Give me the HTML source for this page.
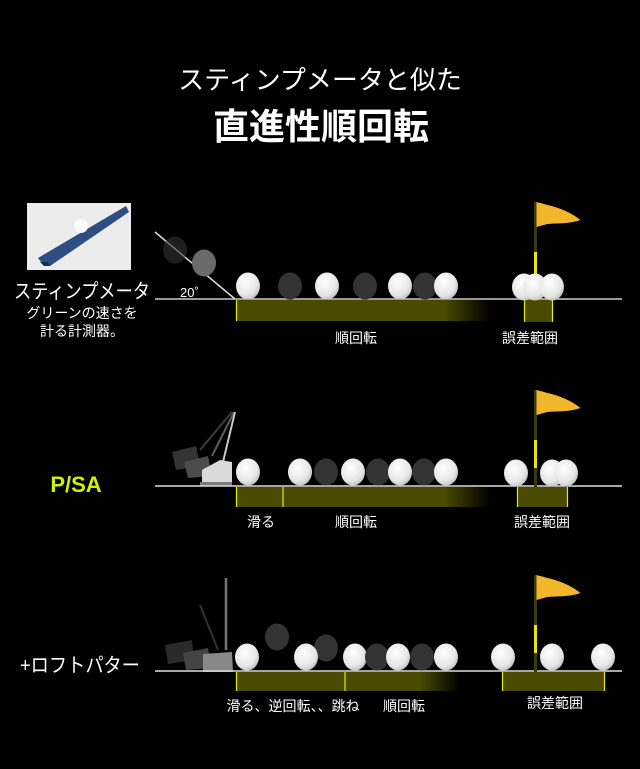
<!DOCTYPE html>
<html><head><meta charset="utf-8"><style>
html,body{margin:0;padding:0;background:#000;width:640px;height:769px;overflow:hidden}
svg{display:block}
text{font-family:"Liberation Sans","Noto Sans CJK JP",sans-serif;fill:#fff}
</style></head><body>
<svg width="640" height="769" viewBox="0 0 640 769" xmlns="http://www.w3.org/2000/svg">
<defs>
<radialGradient id="wb" cx="40%" cy="35%" r="70%"><stop offset="0" stop-color="#fff"/><stop offset="0.7" stop-color="#e6e6e6"/><stop offset="1" stop-color="#bdbdbd"/></radialGradient>
<linearGradient id="fade" x1="0" x2="1"><stop offset="0" stop-color="#4a4a00"/><stop offset="0.82" stop-color="#4a4a00"/><stop offset="1" stop-color="#000"/></linearGradient>
<g id="ball"><ellipse cx="0" cy="0" rx="12" ry="13.5" fill="url(#wb)"/></g>
<g id="dball"><ellipse cx="0" cy="0" rx="12" ry="13.5" fill="#333"/></g>
<g id="flag">
<rect x="-1.5" y="0" width="3" height="97" fill="#3a3a10"/>
<rect x="-1.5" y="50" width="3" height="28" fill="#e6e600"/>
<path d="M1 0 C15 4 30 6 45 18 C35 22 22 21 12 22 L1 25 Z" fill="#f2b62a"/>
</g>
</defs>

<text x="320" y="89" font-size="26" text-anchor="middle">スティンプメータと似た</text>
<text x="321" y="139" font-size="36" font-weight="bold" text-anchor="middle">直進性順回転</text>

<!-- Section 1 -->
<rect x="27" y="203" width="104" height="67" fill="#ececec"/>
<polygon points="38,258 126,206 129,212 50,266 44,266" fill="#2e4d80"/>
<polygon points="40,262 48,262 50,266 44,266" fill="#1b2e50"/>
<circle cx="81" cy="226" r="7" fill="#fafafa"/>
<text x="14" y="298" font-size="20" textLength="136" lengthAdjust="spacingAndGlyphs">スティンプメータ</text>
<text x="82" y="318" font-size="14" text-anchor="middle">グリーンの速さを</text>
<text x="82" y="336" font-size="14" text-anchor="middle">計る計測器。</text>

<line x1="155" y1="232" x2="235" y2="299" stroke="#ddd" stroke-width="1.5"/>
<use href="#dball" x="175" y="250" opacity="0.6"/>
<ellipse cx="204" cy="263" rx="12" ry="13.5" fill="#6a6a6a"/>
<text x="180" y="297" font-size="13">20˚</text>
<line x1="155" y1="299" x2="622" y2="299" stroke="#ccc" stroke-width="1.5"/>
<rect x="236" y="300" width="254" height="21" fill="url(#fade)"/>
<line x1="236.5" y1="300" x2="236.5" y2="321" stroke="#e0f000" stroke-width="1.2"/>
<use href="#ball" x="248" y="286"/>
<use href="#dball" x="290" y="286"/>
<use href="#ball" x="327" y="286"/>
<use href="#dball" x="365" y="286"/>
<use href="#ball" x="400" y="286"/>
<use href="#dball" x="425" y="286"/>
<use href="#ball" x="446" y="286"/>
<use href="#flag" x="535.5" y="202"/>
<rect x="524" y="300" width="29" height="22" fill="#4a4a00"/>
<line x1="524.5" y1="300" x2="524.5" y2="322" stroke="#e0f000" stroke-width="1.2"/>
<line x1="552.5" y1="300" x2="552.5" y2="322" stroke="#e0f000" stroke-width="1.2"/>
<use href="#ball" x="524" y="287"/>
<use href="#ball" x="535" y="287"/>
<use href="#ball" x="552" y="287"/>
<text x="356" y="343" font-size="14" text-anchor="middle">順回転</text>
<text x="530" y="343" font-size="14" text-anchor="middle">誤差範囲</text>

<!-- Section 2 -->
<text x="76" y="492" font-size="22" font-weight="bold" text-anchor="middle" style="fill:#d4f000">P/SA</text>
<g opacity="0.9">
<line x1="200" y1="450" x2="232" y2="412" stroke="#444" stroke-width="2"/>
<line x1="212" y1="456" x2="234" y2="412" stroke="#666" stroke-width="2"/>
<line x1="223" y1="462" x2="235" y2="412" stroke="#ddd" stroke-width="2"/>
<polygon points="172,452 196,446 200,466 176,470" fill="#3a3a3a"/>
<polygon points="184,462 208,456 212,476 188,478" fill="#555"/>
<polygon points="202,470 220,460 232,462 232,482 202,482" fill="#f2f2f2"/>
<rect x="200" y="482" width="32" height="4" fill="#888"/>
</g>
<line x1="155" y1="486" x2="622" y2="486" stroke="#ddd" stroke-width="1.5"/>
<rect x="236" y="487" width="254" height="20" fill="url(#fade)"/>
<line x1="236.5" y1="487" x2="236.5" y2="507" stroke="#e0f000" stroke-width="1.2"/>
<line x1="283" y1="487" x2="283" y2="507" stroke="#e0f000" stroke-width="1.2"/>
<use href="#ball" x="248" y="472"/>
<use href="#ball" x="300" y="472"/>
<use href="#dball" x="326" y="472"/>
<use href="#ball" x="353" y="472"/>
<use href="#dball" x="378" y="472"/>
<use href="#ball" x="400" y="472"/>
<use href="#dball" x="424" y="472"/>
<use href="#ball" x="446" y="472"/>
<use href="#flag" x="535.5" y="390"/>
<rect x="517" y="487" width="51" height="20" fill="#4a4a00"/>
<line x1="517.5" y1="487" x2="517.5" y2="507" stroke="#e0f000" stroke-width="1.2"/>
<line x1="567.5" y1="487" x2="567.5" y2="507" stroke="#e0f000" stroke-width="1.2"/>
<use href="#ball" x="516" y="473"/>
<use href="#ball" x="552" y="473"/>
<use href="#ball" x="566" y="473"/>
<text x="261" y="527" font-size="14" text-anchor="middle">滑る</text>
<text x="356" y="527" font-size="14" text-anchor="middle">順回転</text>
<text x="542" y="527" font-size="14" text-anchor="middle">誤差範囲</text>

<!-- Section 3 -->
<text x="20" y="672" font-size="20" textLength="120" lengthAdjust="spacingAndGlyphs">+ロフトパター</text>
<line x1="226" y1="578" x2="226" y2="650" stroke="#777" stroke-width="2.5"/>
<line x1="200" y1="605" x2="218" y2="650" stroke="#333" stroke-width="2"/>
<polygon points="165,645 192,640 194,660 168,664" fill="#2a2a2a"/>
<polygon points="183,653 208,648 212,668 186,670" fill="#444"/>
<polygon points="203,654 232,652 233,672 203,672" fill="#888"/>
<line x1="155" y1="671" x2="622" y2="671" stroke="#ddd" stroke-width="1.5"/>
<rect x="236" y="672" width="224" height="19" fill="url(#fade)"/>
<line x1="236.5" y1="672" x2="236.5" y2="691" stroke="#e0f000" stroke-width="1.2"/>
<line x1="345" y1="672" x2="345" y2="691" stroke="#e0f000" stroke-width="1.2"/>
<use href="#dball" x="277" y="637"/>
<use href="#dball" x="326" y="648"/>
<use href="#ball" x="247" y="657"/>
<use href="#ball" x="306" y="657"/>
<use href="#ball" x="355" y="657"/>
<use href="#dball" x="377" y="657"/>
<use href="#ball" x="398" y="657"/>
<use href="#dball" x="422" y="657"/>
<use href="#ball" x="446" y="657"/>
<use href="#flag" x="535.5" y="575"/>
<rect x="502" y="672" width="103" height="19" fill="#4a4a00"/>
<line x1="502.5" y1="672" x2="502.5" y2="691" stroke="#e0f000" stroke-width="1.2"/>
<line x1="604.5" y1="672" x2="604.5" y2="691" stroke="#e0f000" stroke-width="1.2"/>
<use href="#ball" x="503" y="657"/>
<use href="#ball" x="552" y="657"/>
<use href="#ball" x="603" y="657"/>
<text x="293" y="711" font-size="14" text-anchor="middle">滑る、逆回転、、跳ね</text>
<text x="404" y="711" font-size="14" text-anchor="middle">順回転</text>
<text x="555" y="708" font-size="14" text-anchor="middle">誤差範囲</text>
</svg>
</body></html>
